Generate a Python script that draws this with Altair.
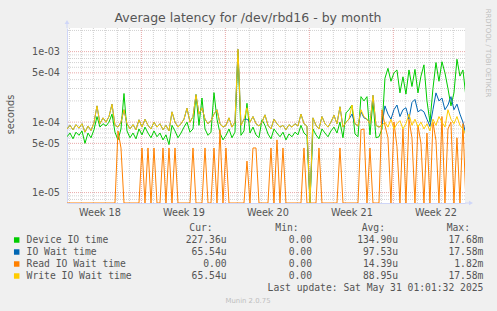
import altair as alt
import pandas as pd

# ---------------- data (values in microseconds, one sample every 6 hours) ----------------
STEP_DAYS = 0.25

device = [62, 70, 58, 72, 65, 75, 50, 70, 60, 78,
          120, 85, 95, 88, 100, 130, 72, 56, 80, 255,
          75, 60, 70, 58, 80, 66, 85, 70, 60, 75,
          62, 70, 56, 66, 48, 90, 75, 60, 70, 85,
          100, 72, 80, 245, 90, 220, 80, 65, 72, 262,
          110, 70, 56, 65, 80, 60, 72, 1000, 65, 75,
          185, 70, 85, 66, 60, 108, 90, 68, 58, 80,
          70, 62, 72, 56, 68, 62, 72, 66, 90, 70,
          64, 0, 80, 66, 58, 80, 70, 62, 75, 85,
          70, 100, 60, 135, 150, 175, 68, 62, 230, 200,
          230, 66, 200, 60, 62, 80, 420, 580, 380, 500,
          550, 260, 440, 250, 550, 320, 560, 260, 450, 650,
          200, 100, 300, 700, 380, 720, 500, 300, 170, 260,
          780, 450, 550, 227]

iowait = [80, 90, 78, 92, 82, 95, 72, 88, 76, 98,
          170, 95, 115, 100, 120, 180, 90, 85, 100, 150,
          95, 80, 92, 78, 108, 85, 110, 90, 80, 100,
          85, 95, 78, 90, 75, 140, 100, 85, 95, 110,
          158, 100, 120, 245, 130, 160, 110, 95, 105, 130,
          150, 95, 85, 90, 115, 85, 100, 1080, 90, 110,
          110, 100, 120, 95, 88, 100, 127, 90, 80, 110,
          95, 85, 90, 78, 92, 85, 95, 88, 130, 95,
          88, 0, 115, 90, 80, 120, 95, 85, 100, 125,
          95, 165, 85, 100, 110, 130, 95, 88, 140, 115,
          110, 95, 240, 90, 85, 90, 170, 130, 110, 150,
          175, 120, 150, 160, 110, 190, 210, 140, 150, 140,
          110, 87, 150, 260, 200, 220, 150, 175, 230, 150,
          180, 130, 100, 66]

read = [0, 0, 0, 0, 0, 0, 0, 0, 0, 0,
        0, 0, 0, 0, 0, 0, 0, 75, 43, 0,
        0, 0, 0, 0, 0, 43, 0, 43, 0, 43,
        0, 0, 43, 0, 43, 0, 43, 0, 0, 0,
        0, 0, 43, 0, 0, 0, 43, 0, 0, 43,
        0, 78, 0, 43, 0, 0, 0, 0, 0, 0,
        28, 0, 43, 43, 0, 0, 0, 0, 43, 0,
        56, 0, 43, 0, 0, 0, 0, 0, 0, 43,
        0, 0, 0, 0, 43, 0, 0, 0, 0, 0,
        0, 43, 0, 0, 0, 0, 0, 0, 78, 80,
        0, 43, 0, 0, 0, 150, 90, 60, 0, 100,
        45, 0, 80, 0, 110, 60, 0, 90, 50, 0,
        70, 0, 100, 55, 0, 120, 0, 80, 100, 0,
        60, 0, 95, 0]

write = [80, 90, 78, 92, 82, 95, 72, 88, 76, 98,
         170, 95, 115, 100, 120, 180, 90, 85, 100, 150,
         95, 80, 92, 78, 108, 85, 110, 90, 80, 100,
         85, 95, 78, 90, 75, 140, 100, 85, 95, 110,
         158, 100, 120, 245, 130, 160, 110, 95, 105, 130,
         150, 95, 85, 90, 115, 85, 100, 1080, 90, 110,
         160, 100, 120, 95, 88, 100, 127, 90, 80, 110,
         95, 85, 90, 78, 92, 85, 95, 88, 130, 95,
         88, 0, 115, 90, 80, 120, 95, 85, 100, 125,
         95, 165, 85, 100, 110, 175, 95, 88, 150, 120,
         110, 95, 240, 90, 85, 90, 100, 85, 110, 80,
         95, 105, 80, 95, 130, 90, 110, 85, 100, 80,
         95, 75, 110, 90, 120, 100, 85, 150, 110, 95,
         120, 90, 80, 66]

series_names = ["Device IO time", "IO Wait time", "Read IO Wait time", "Write IO Wait time"]
series_colors = ["#00CC00", "#0066B3", "#FF8000", "#FFCC00"]
series_values = [device, iowait, read, write]

cur_vals = ["227.36u", "65.54u", "0.00 ", "65.54u"]
min_vals = ["0.00 ", "0.00 ", "0.00 ", "0.00 "]
avg_vals = ["134.90u", "97.53u", "14.39u", "88.95u"]
max_vals = ["17.68m", "17.58m", "1.82m", "17.58m"]
col_headers = ["Cur:", "Min:", "Avg:", "Max:"]

week_labels = ["Week 18", "Week 19", "Week 20", "Week 21", "Week 22"]
week_centers = [2.7, 9.7, 16.7, 23.7, 30.7]
week_starts = [6.2, 13.2, 20.2, 27.2]

y_tick_values = [1e-5, 5e-5, 1e-4, 5e-4, 1e-3]
y_tick_labels = ["1e-05", "5e-05", "1e-04", "5e-04", "1e-03"]

title_text = "Average latency for /dev/rbd16 - by month"
last_update = "Last update: Sat May 31 01:01:32 2025"
footer = "Munin 2.0.75"
watermark = "RRDTOOL / TOBI OETIKER"

# ---------------- layout ----------------
PL, PT = 67, 28
W, H = 398, 175
X_MAX = 33.17
Y_MIN, Y_MAX = 7.12e-6, 2.166e-3

FONT = "DejaVu Sans"
MONO = "DejaVu Sans Mono"
TXT = "#555555"
AXIS_COL = "#CFD6F8"

rows = []
for name, vals in zip(series_names, series_values):
    for i, v in enumerate(vals):
        rows.append({"t": i * STEP_DAYS, "v": v, "s": name})
df = pd.DataFrame(rows)

x_scale = alt.Scale(domain=[0, X_MAX], nice=False, zero=False)
y_scale = alt.Scale(type="log", domain=[Y_MIN, Y_MAX], nice=False, clamp=True)

# axis label expressions
x_expr = "".join(f"datum.value < {c + 1} ? '{lab}' : " for c, lab in zip(week_centers[:-1], week_labels[:-1])) + f"'{week_labels[-1]}'"
y_expr = "".join(f"datum.value < {v * 1.5} ? '{lab}' : " for v, lab in zip(y_tick_values[:-1], y_tick_labels[:-1])) + f"'{y_tick_labels[-1]}'"

x_axis = alt.Axis(values=week_centers, labelExpr=x_expr, grid=False, ticks=False,
                  domainColor=AXIS_COL, labelFont=FONT, labelFontSize=9.7, labelColor=TXT,
                  labelPadding=4, title=None, labelFlush=False)
y_axis = alt.Axis(values=y_tick_values, labelExpr=y_expr, grid=False, ticks=False,
                  domainColor=AXIS_COL, labelFont=FONT, labelFontSize=9.7, labelColor=TXT,
                  labelPadding=7.5, title=None, labelFlush=False)

# grid data
minor_days = [0.2 + k for k in range(34) if 0.2 + k <= X_MAX and round(0.2 + k, 1) not in week_starts]
h_minor = []
for e in (-6, -5, -4, -3):
    for k in range(1, 10):
        val = k * 10.0 ** e
        if Y_MIN <= val <= Y_MAX and not any(abs(val - m) / m < 1e-6 for m in y_tick_values):
            h_minor.append(val)

GRID_DASH = [1, 1]
MINOR_COL = "#D2D2D2"
MAJOR_COL = "#E8A8A8"
vminor = alt.Chart(pd.DataFrame({"t": minor_days})).mark_rule(
    color=MINOR_COL, strokeWidth=1, strokeDash=GRID_DASH
).encode(x=alt.X("t:Q", scale=x_scale, axis=x_axis))
hminor = alt.Chart(pd.DataFrame({"y": h_minor})).mark_rule(
    color=MINOR_COL, strokeWidth=1, strokeDash=GRID_DASH
).encode(y=alt.Y("y:Q", scale=y_scale, axis=y_axis))
vmajor = alt.Chart(pd.DataFrame({"t": week_starts})).mark_rule(
    color=MAJOR_COL, strokeWidth=1, strokeDash=GRID_DASH
).encode(x=alt.X("t:Q", scale=x_scale, axis=x_axis))
hmajor = alt.Chart(pd.DataFrame({"y": y_tick_values})).mark_rule(
    color=MAJOR_COL, strokeWidth=1, strokeDash=GRID_DASH
).encode(y=alt.Y("y:Q", scale=y_scale, axis=y_axis))

line_layers = []
for name, color in zip(series_names, series_colors):
    layer = alt.Chart(df).transform_filter(
        alt.datum.s == name
    ).transform_calculate(
        sec="max(datum.v, 1) * 1e-6"
    ).mark_line(color=color, strokeWidth=1, clip=True).encode(
        x=alt.X("t:Q", scale=x_scale, axis=x_axis),
        y=alt.Y("sec:Q", scale=y_scale, axis=y_axis),
    )
    line_layers.append(layer)


def txt(text, x, y, size, font=FONT, align="left", baseline="middle", angle=0, color=TXT):
    kw = dict(font=font, fontSize=size, align=align, baseline=baseline, color=color)
    if angle:
        kw["angle"] = angle
    return alt.Chart(pd.DataFrame({"label": [text]})).mark_text(**kw).encode(
        x=alt.value(x - PL), y=alt.value(y - PT), text="label:N"
    )


def nb(s):
    return s.replace(" ", "\u00a0")


deco = []
# axis arrows
deco.append(alt.Chart(pd.DataFrame({"a": [0]})).mark_rule(color=AXIS_COL, strokeWidth=1).encode(
    x=alt.value(0), y=alt.value(-6), y2=alt.value(0)))
deco.append(alt.Chart(pd.DataFrame({"a": [0]})).mark_rule(color=AXIS_COL, strokeWidth=1).encode(
    x=alt.value(W), x2=alt.value(W + 6), y=alt.value(H)))
deco.append(alt.Chart(pd.DataFrame({"a": [0]})).mark_point(shape="triangle-up", filled=True, size=22,
                                                             color=AXIS_COL, opacity=1).encode(
    x=alt.value(0), y=alt.value(-6)))
deco.append(alt.Chart(pd.DataFrame({"a": [0]})).mark_point(shape="triangle-right", filled=True, size=22,
                                                             color=AXIS_COL, opacity=1).encode(
    x=alt.value(W + 6), y=alt.value(H)))

# titles
deco.append(txt(title_text, 248, 18, 12.5, align="center"))
deco.append(txt("seconds", 11, 114.5, 9.7, align="center", angle=270))
deco.append(txt(watermark, 487.5, 53, 6.9, align="center", angle=90, color="#BEBEBE"))
deco.append(txt(footer, 248, 300.5, 6.9, align="center", color="#BEBEBE"))

# legend
header_right = [212.7, 298.7, 385.0, 470.0]
value_right = [226.6, 312.0, 398.0, 483.4]
for h, xr in zip(col_headers, header_right):
    deco.append(txt(h, xr, 228, 9.7, font=MONO, align="right"))
row_y = [240, 252, 264, 276]
for k, (name, color) in enumerate(zip(series_names, series_colors)):
    yy = row_y[k]
    deco.append(alt.Chart(pd.DataFrame({"a": [0]})).mark_square(size=30, color=color, opacity=1).encode(
        x=alt.value(16.7 - PL), y=alt.value(yy - PT)))
    deco.append(txt(name, 26.6, yy, 9.7, font=MONO))
    for vals, xr in zip([cur_vals, min_vals, avg_vals, max_vals], value_right):
        deco.append(txt(nb(vals[k]), xr, yy, 9.7, font=MONO, align="right"))
deco.append(txt(last_update, 483.4, 288, 9.7, font=MONO, align="right"))

chart = alt.layer(vminor, hminor, vmajor, hmajor, *line_layers, *deco).properties(
    width=W, height=H,
    autosize=alt.AutoSizeParams(type="none"),
    padding={"left": PL, "top": PT, "right": 497 - PL - W, "bottom": 311 - PT - H},
    background="#F0F0F0",
).configure_view(fill="white", stroke=None)

chart.save("out.html", embed_options={"renderer": "svg", "actions": False})
